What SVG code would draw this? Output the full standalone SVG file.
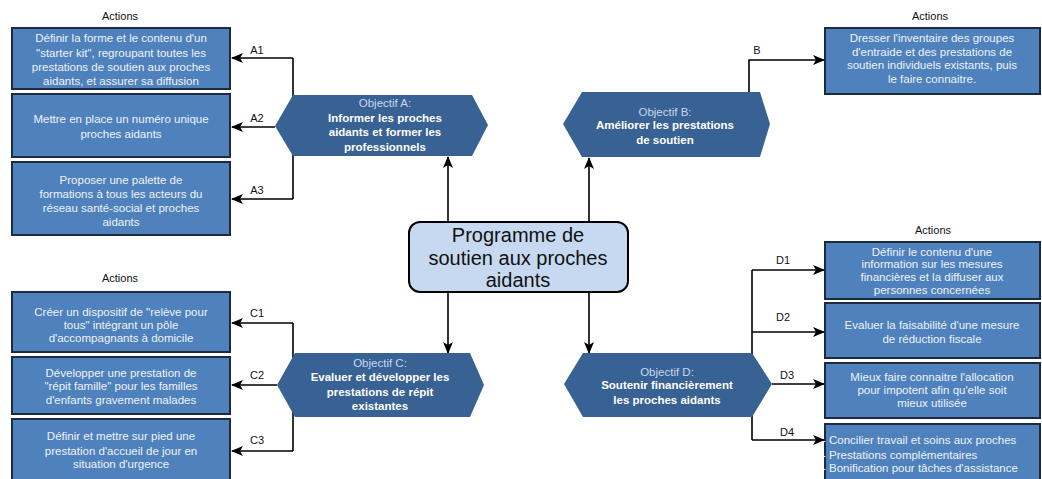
<svg xmlns="http://www.w3.org/2000/svg" width="1042" height="479" viewBox="0 0 1042 479">
<style>
.bg{fill:#ffffff}
.box{fill:#4f81bd;stroke:#1c2b40;stroke-width:2}
.hex{fill:#386194}
.bt{font-family:"Liberation Sans",Arial,sans-serif;font-size:11.5px;fill:#eef3fa;text-anchor:middle}
.btl{font-family:"Liberation Sans",Arial,sans-serif;font-size:11.5px;fill:#eef3fa;text-anchor:start}
.ht{font-family:"Liberation Sans",Arial,sans-serif;font-size:11.5px;fill:#c9d8ee;text-anchor:middle}
.hb{font-family:"Liberation Sans",Arial,sans-serif;font-size:11.5px;font-weight:bold;fill:#ffffff;text-anchor:middle}
.act{font-family:"Liberation Sans",Arial,sans-serif;font-size:11px;fill:#111;text-anchor:middle}
.lbl{font-family:"Liberation Sans",Arial,sans-serif;font-size:11px;fill:#111;text-anchor:middle}
.ln{fill:none;stroke:#000;stroke-width:1.6}
.ar{fill:none;stroke:#000;stroke-width:1.6;marker-end:url(#ah)}
.center{fill:#c6d9f1;stroke:#000;stroke-width:2}
.ct{font-family:"Liberation Sans",Arial,sans-serif;font-size:20px;fill:#111;text-anchor:middle}
</style>
<defs>
<marker id="ah" markerUnits="userSpaceOnUse" markerWidth="12" markerHeight="10" viewBox="0 0 12 10" refX="11" refY="5" orient="auto">
<path d="M0,0 L12,5 L0,10 L3,5 Z" fill="#000"/>
</marker>
</defs>
<rect class="bg" x="0" y="0" width="1042" height="479"/>

<g id="connectors">
<path class="ln" d="M293,58 L293,199"/>
<path class="ar" d="M293,58 L232,58"/>
<path class="ar" d="M275,127 L232,127"/>
<path class="ar" d="M293,199 L232,199"/>
<path class="ar" d="M749,92 L749,60 L824,60"/>
<path class="ln" d="M293,323 L293,451"/>
<path class="ar" d="M293,323 L232,323"/>
<path class="ar" d="M277,385 L232,385"/>
<path class="ar" d="M293,451 L232,451"/>
<path class="ln" d="M752,270 L752,440"/>
<path class="ar" d="M752,270 L824,270"/>
<path class="ar" d="M752,332 L824,332"/>
<path class="ar" d="M772,384 L824,384"/>
<path class="ar" d="M752,440 L824,440"/>
<path class="ar" d="M448,222 L448,157"/>
<path class="ar" d="M589,222 L589,158"/>
<path class="ar" d="M448,292 L448,353"/>
<path class="ar" d="M589,292 L589,353"/>
<text class="lbl" x="257" y="54">A1</text>
<text class="lbl" x="257" y="122">A2</text>
<text class="lbl" x="257" y="194">A3</text>
<text class="lbl" x="757" y="54">B</text>
<text class="lbl" x="257" y="317">C1</text>
<text class="lbl" x="257" y="379">C2</text>
<text class="lbl" x="257" y="444">C3</text>
<text class="lbl" x="783" y="264">D1</text>
<text class="lbl" x="783" y="321">D2</text>
<text class="lbl" x="787" y="379">D3</text>
<text class="lbl" x="787" y="436">D4</text>
</g>

<g id="actions-labels">
<text class="act" x="120" y="20">Actions</text>
<text class="act" x="930" y="20">Actions</text>
<text class="act" x="120" y="282">Actions</text>
<text class="act" x="933" y="234">Actions</text>
</g>

<g id="center">
<rect class="center" x="409" y="222" width="219" height="70" rx="11" ry="11"/>
<text class="ct" x="518" y="242">Programme de</text>
<text class="ct" x="518" y="265">soutien aux proches</text>
<text class="ct" x="518" y="287">aidants</text>
</g>

<g id="objA">
<polygon class="hex" points="293,95 472,95 488,125 472,156 293,156 275,126"/>
<text class="ht" x="385" y="107">Objectif A:</text>
<text class="hb" x="385" y="122">Informer  les proches</text>
<text class="hb" x="385" y="136">aidants et former les</text>
<text class="hb" x="385" y="151">professionnels</text>
</g>

<g id="objB">
<polygon class="hex" points="582,92 760,92 770,124 760,157 582,157 563,124"/>
<text class="ht" x="665" y="116">Objectif B:</text>
<text class="hb" x="665" y="129">Améliorer les prestations</text>
<text class="hb" x="665" y="144">de soutien</text>
</g>

<g id="objC">
<polygon class="hex" points="295,353 470,353 484,385 470,417 295,417 277,385"/>
<text class="ht" x="380" y="367">Objectif C:</text>
<text class="hb" x="380" y="381">Evaluer et développer les</text>
<text class="hb" x="380" y="396">prestations de répit</text>
<text class="hb" x="380" y="410">existantes</text>
</g>

<g id="objD">
<polygon class="hex" points="583,353 752,353 772,384 752,417 583,417 564,384"/>
<text class="ht" x="667" y="376">Objectif D:</text>
<text class="hb" x="667" y="389">Soutenir financièrement</text>
<text class="hb" x="667" y="404">les proches aidants</text>
</g>

<g id="A1">
<rect class="box" x="12" y="28" width="218" height="61"/>
<text class="bt" x="121" y="42">Définir la forme et le contenu d'un</text>
<text class="bt" x="121" y="57">"starter kit", regroupant toutes les</text>
<text class="bt" x="121" y="71">prestations de soutien aux proches</text>
<text class="bt" x="121" y="85">aidants, et assurer sa diffusion</text>
</g>
<g id="A2">
<rect class="box" x="12" y="94" width="218" height="63"/>
<text class="bt" x="121" y="123">Mettre  en place un numéro unique</text>
<text class="bt" x="121" y="138">proches aidants</text>
</g>
<g id="A3">
<rect class="box" x="12" y="162" width="218" height="73"/>
<text class="bt" x="121" y="184">Proposer une palette de</text>
<text class="bt" x="121" y="198">formations à tous les acteurs  du</text>
<text class="bt" x="121" y="212">réseau santé-social et proches</text>
<text class="bt" x="121" y="226">aidants</text>
</g>

<g id="B1">
<rect class="box" x="825" y="28" width="215" height="66"/>
<text class="bt" x="932" y="42">Dresser l'inventaire des groupes</text>
<text class="bt" x="932" y="56">d'entraide et des prestations de</text>
<text class="bt" x="932" y="69">soutien individuels existants, puis</text>
<text class="bt" x="932" y="83">le faire connaitre.</text>
</g>

<g id="C1">
<rect class="box" x="12" y="292" width="218" height="60"/>
<text class="bt" x="121" y="316">Créer un dispositif de "relève pour</text>
<text class="bt" x="121" y="329">tous" intégrant un pôle</text>
<text class="bt" x="121" y="342">d'accompagnants à domicile</text>
</g>
<g id="C2">
<rect class="box" x="12" y="357" width="218" height="57"/>
<text class="bt" x="121" y="377">Développer une prestation de</text>
<text class="bt" x="121" y="390">"répit famille" pour les familles</text>
<text class="bt" x="121" y="404">d'enfants gravement malades</text>
</g>
<g id="C3">
<rect class="box" x="12" y="419" width="218" height="64"/>
<text class="bt" x="121" y="440">Définir et mettre  sur pied une</text>
<text class="bt" x="121" y="455">prestation d'accueil de jour en</text>
<text class="bt" x="121" y="468">situation d'urgence</text>
</g>

<g id="D1">
<rect class="box" x="825" y="242" width="215" height="57"/>
<text class="bt" x="932" y="256">Définir le contenu  d'une</text>
<text class="bt" x="932" y="268">information sur les mesures</text>
<text class="bt" x="932" y="281">financières  et la diffuser aux</text>
<text class="bt" x="932" y="294">personnes concernées</text>
</g>
<g id="D2">
<rect class="box" x="825" y="303" width="215" height="55"/>
<text class="bt" x="932" y="329">Evaluer la faisabilité d'une mesure</text>
<text class="bt" x="932" y="343">de réduction  fiscale</text>
</g>
<g id="D3">
<rect class="box" x="825" y="363" width="215" height="55"/>
<text class="bt" x="932" y="381">Mieux faire connaitre  l'allocation</text>
<text class="bt" x="932" y="394">pour  impotent  afin qu'elle soit</text>
<text class="bt" x="932" y="407">mieux utilisée</text>
</g>
<g id="D4">
<rect class="box" x="825" y="424" width="215" height="60"/>
<text class="btl" x="822" y="444">- Concilier travail et soins aux proches</text>
<text class="btl" x="822" y="459">- Prestations complémentaires</text>
<text class="btl" x="822" y="472">- Bonification pour tâches  d'assistance</text>
</g>
</svg>
